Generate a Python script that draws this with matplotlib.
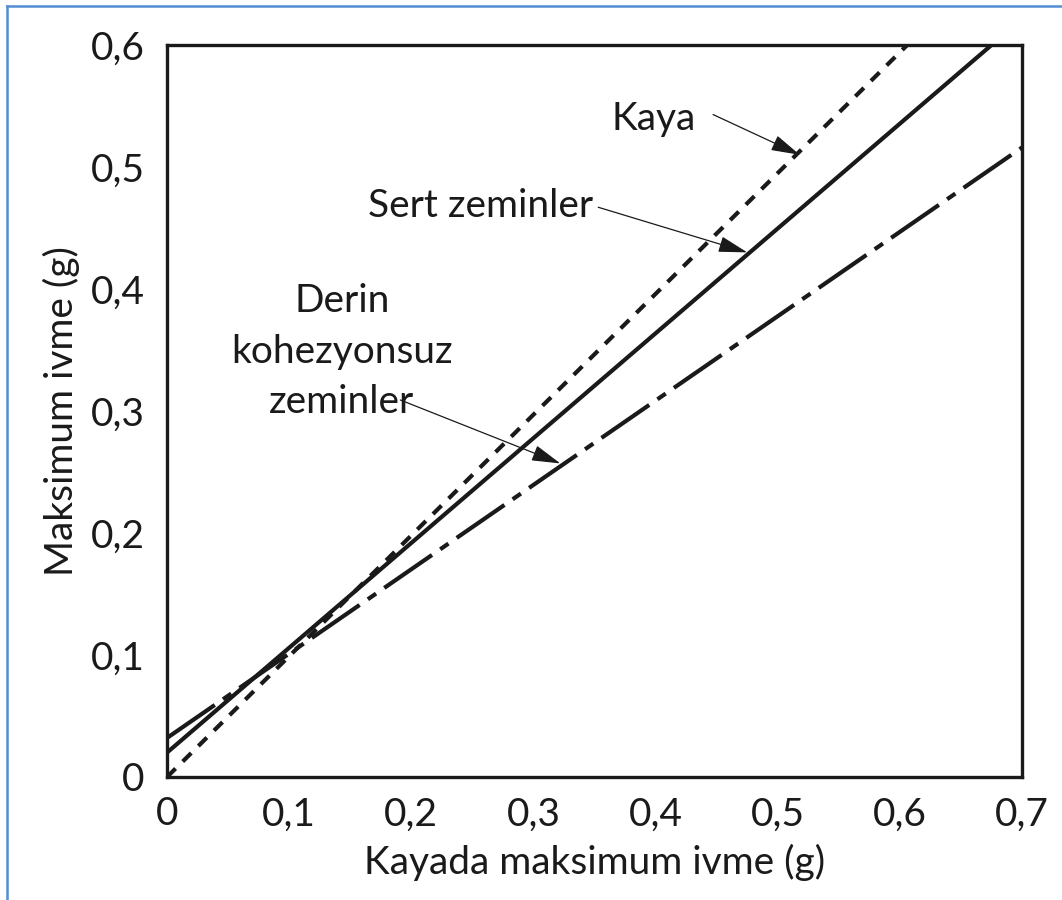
import matplotlib.pyplot as plt
from matplotlib.lines import Line2D

plt.rcParams['font.family'] = ['Lato', 'DejaVu Sans']

# values (g)
kaya_x = [0.0, 0.606]
kaya_y = [0.0, 0.60]
sert_x = [0.0, 0.675]
sert_y = [0.020, 0.60]
derin_x = [0.0, 0.70]
derin_y = [0.032, 0.516]

x_ticks = [0, 0.1, 0.2, 0.3, 0.4, 0.5, 0.6, 0.7]
x_labels = ["0", "0,1", "0,2", "0,3", "0,4", "0,5", "0,6", "0,7"]
y_ticks = [0, 0.1, 0.2, 0.3, 0.4, 0.5, 0.6]
y_labels = ["0", "0,1", "0,2", "0,3", "0,4", "0,5", "0,6"]


def dash(lw, *px):
    # dash lengths given in pixels at 100 dpi, turned into linewidth units
    return (0, tuple(p * 0.72 / lw for p in px))


fig = plt.figure(figsize=(10.62, 9.0), dpi=100)
ax = fig.add_axes([0.1573, 0.1367, 0.8051, 0.8133])

ink = '#1a1a1a'
lw = 3.0
ax.plot(kaya_x, kaya_y, color=ink, lw=lw, ls=dash(lw, 12, 10),
        solid_capstyle='butt', dash_capstyle='butt')
ax.plot(sert_x, sert_y, color=ink, lw=lw, solid_capstyle='butt')
ax.plot(derin_x, derin_y, color=ink, lw=lw, ls=dash(lw, 58, 10, 10, 10),
        dash_capstyle='butt')

ax.set_xlim(0, 0.7)
ax.set_ylim(0, 0.6)
ax.set_xticks(x_ticks)
ax.set_xticklabels(x_labels)
ax.set_yticks(y_ticks)
ax.set_yticklabels(y_labels)
ax.tick_params(axis='both', length=0, labelsize=28, colors=ink)
ax.tick_params(axis='y', pad=16)
ax.tick_params(axis='x', pad=14)
for s in ax.spines.values():
    s.set_linewidth(2.4)
    s.set_color(ink)

ax.set_xlabel('Kayada maksimum ivme (g)', fontsize=28, labelpad=8, color=ink)
ax.set_ylabel('Maksimum ivme (g)', fontsize=28, labelpad=8, color=ink)

arrow = dict(arrowstyle='-|>,head_length=1.8,head_width=0.5', color=ink,
             lw=0.9, shrinkA=0, shrinkB=0, mutation_scale=10)
txt = dict(fontsize=28, color=ink)

ax.text(0.398, 0.530, 'Kaya', ha='center', va='baseline', **txt)
ax.annotate('', xy=(0.518, 0.51), xytext=(0.447, 0.543), arrowprops=arrow)

ax.text(0.257, 0.459, 'Sert zeminler', ha='center', va='baseline', **txt)
ax.annotate('', xy=(0.475, 0.43), xytext=(0.353, 0.467), arrowprops=arrow)

ax.text(0.143, 0.298, 'Derin\nkohezyonsuz\nzeminler', ha='center', va='baseline',
        linespacing=1.5, **txt)
ax.annotate('', xy=(0.322, 0.257), xytext=(0.191, 0.309), arrowprops=arrow)

# blue frame from the page the chart was cut out of
frame = '#548dd4'
fig.add_artist(Line2D([7 / 1062, 7 / 1062], [0, 1 - 6 / 900], color=frame, lw=1.8))
fig.add_artist(Line2D([7 / 1062, 1], [1 - 6 / 900, 1 - 6 / 900], color=frame, lw=1.8))

fig.savefig('out.png', dpi=100)
